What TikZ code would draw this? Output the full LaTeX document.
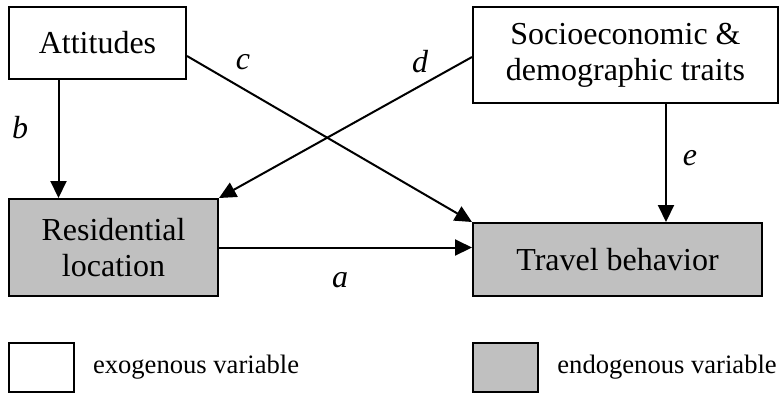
\documentclass[tikz,border=0pt]{standalone}
\usepackage{fontspec}
\setmainfont{Liberation Serif}
\usepackage{tikz}
\usetikzlibrary{arrows.meta}
\usetikzlibrary{positioning}
\usetikzlibrary{calc}
\definecolor{endogrey}{HTML}{C0C0C0}
\tikzset{
  varbox/.style={draw, line width=1pt, inner sep=0pt, align=center, font=\fontsize{16}{18}\selectfont},
  exobox/.style={varbox, fill=white},
  endobox/.style={varbox, fill=endogrey},
  arr/.style={line width=1pt, -{Triangle[length=8.5pt,width=8pt]}},
  pathlbl/.style={font=\fontsize{16}{18}\selectfont\itshape, inner sep=0pt},
  legtext/.style={font=\fontsize{13.3}{16}\selectfont, inner sep=0pt}
}
\begin{document}
\begin{tikzpicture}[x=0.5pt, y=-0.5pt]
                \useasboundingbox (0,0) rectangle (780,393);

                % Variables
                \node[exobox, minimum width=88.5pt, minimum height=36pt] (att) at (97.5,43) {Attitudes};
                \node[exobox, minimum width=152.5pt, minimum height=48pt] (soc) at (625.5,55) {Socioeconomic \&\\demographic traits};
                \node[endobox, minimum width=104.5pt, minimum height=48.5pt] (res) at (113.5,247.5) {Residential\\location};
                \node[endobox, minimum width=144.5pt, minimum height=36.5pt] (trav) at (617.5,259.5) {Travel behavior};

                % Paths
                \draw[arr] ($(att.south)+(-39,0)$) -- ($(res.north)+(-55,0)$);
                \draw[arr] ($(att.east)+(0,13)$) -- (trav.north west);
                \draw[arr] ($(soc.west)+(0,2)$) -- (res.north east);
                \draw[arr] ($(soc.south)+(40.5,0)$) -- ($(trav.north)+(48.5,0)$);
                \draw[arr] (res.east) -- (res.east -| trav.west);

                % Path labels
                \node[pathlbl] (lblb) at (20,128) {b};
                \node[pathlbl] (lblc) at (243,62) {c};
                \node[pathlbl] (lbld) at (420,62) {d};
                \node[pathlbl] (lble) at (690,158) {e};
                \node[pathlbl] (lbla) at (340,280) {a};

                % Legend
                \node[exobox, minimum width=32.5pt, minimum height=24.5pt] (legexo) at (41.5,367.5) {};
                \node[legtext, right=8.8pt of legexo] (legexotxt) {exogenous variable};
                \node[endobox, minimum width=32.5pt, minimum height=24.5pt] (legendo) at (505.5,367.5) {};
                \node[legtext, right=9pt of legendo] (legendotxt) {endogenous variable};
            \end{tikzpicture}
\end{document}
